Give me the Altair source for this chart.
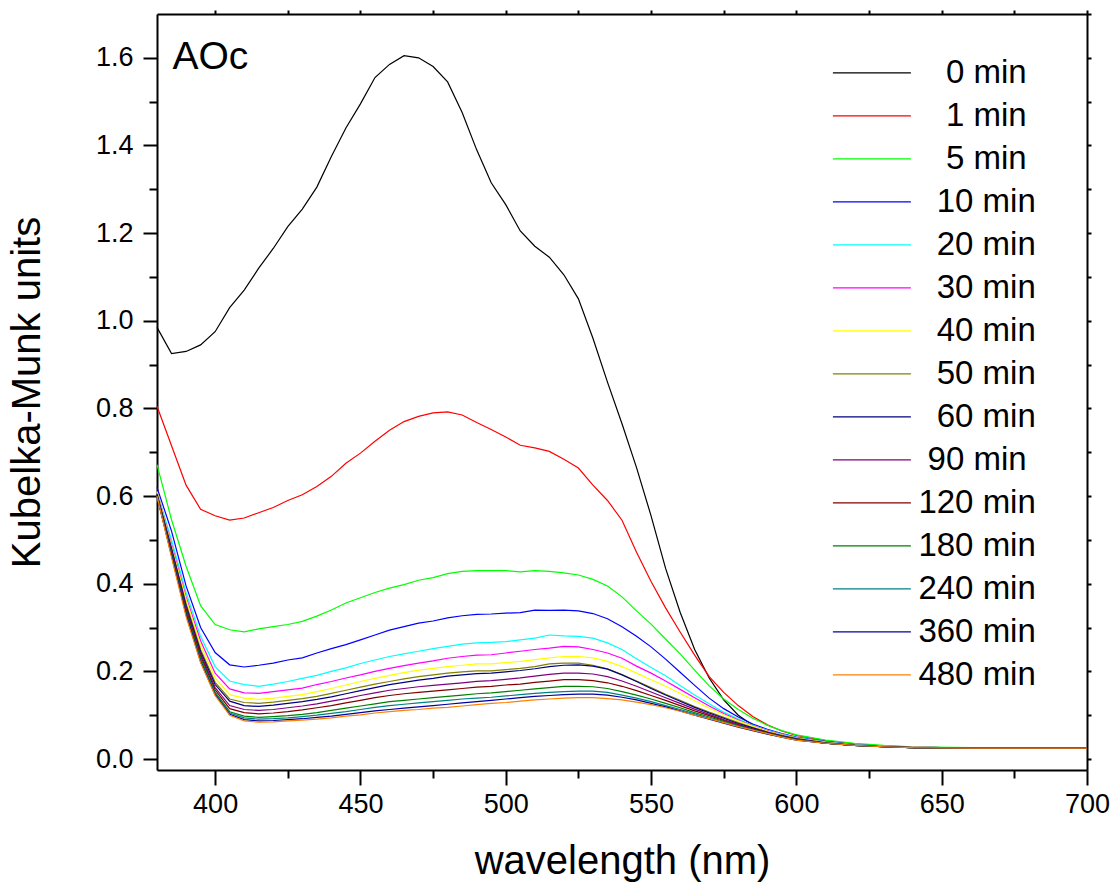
import altair as alt
import pandas as pd

wavelength = [380, 385, 390, 395, 400, 405, 410, 415, 420, 425,
              430, 435, 440, 445, 450, 455, 460, 465, 470, 475,
              480, 485, 490, 495, 500, 505, 510, 515, 520, 525,
              530, 535, 540, 545, 550, 555, 560, 565, 570, 575,
              580, 585, 590, 595, 600,
              610, 620, 630, 640, 660, 680, 700]

labels = ["0 min", "1 min", "5 min", "10 min", "20 min", "30 min", "40 min", "50 min",
          "60 min", "90 min", "120 min", "180 min", "240 min", "360 min", "480 min"]
colors = ["#000000", "#FF0000", "#00FF00", "#0000FF", "#00FFFF", "#FF00FF", "#FFFF00", "#808000",
          "#000080", "#800080", "#800000", "#008000", "#008080", "#0000A0", "#FF8000"]

km_0 = [0.985, 0.925, 0.930, 0.945, 0.975, 1.030, 1.070, 1.120, 1.165, 1.215,
        1.255, 1.305, 1.375, 1.440, 1.495, 1.555, 1.585, 1.605, 1.600, 1.580,
        1.545, 1.475, 1.390, 1.315, 1.265, 1.205, 1.170, 1.145, 1.105, 1.050,
        0.960, 0.860, 0.765, 0.665, 0.555, 0.435, 0.335, 0.250, 0.185, 0.135,
        0.100, 0.077, 0.063, 0.054, 0.047,
        0.036, 0.031, 0.028, 0.026, 0.025, 0.025, 0.025]
km_1 = [0.805, 0.715, 0.625, 0.570, 0.555, 0.545, 0.550, 0.562, 0.574, 0.590,
        0.603, 0.622, 0.645, 0.675, 0.698, 0.725, 0.750, 0.770, 0.782, 0.790,
        0.792, 0.785, 0.768, 0.752, 0.735, 0.716, 0.710, 0.702, 0.684, 0.664,
        0.625, 0.590, 0.545, 0.472, 0.405, 0.345, 0.290, 0.237, 0.188, 0.152,
        0.122, 0.097, 0.078, 0.064, 0.054,
        0.042, 0.034, 0.030, 0.027, 0.025, 0.025, 0.025]
km_5 = [0.672, 0.546, 0.440, 0.350, 0.307, 0.295, 0.290, 0.297, 0.302, 0.307,
        0.314, 0.326, 0.340, 0.356, 0.368, 0.380, 0.390, 0.398, 0.408, 0.414,
        0.423, 0.428, 0.430, 0.430, 0.430, 0.427, 0.430, 0.428, 0.425, 0.420,
        0.410, 0.395, 0.370, 0.338, 0.308, 0.274, 0.240, 0.203, 0.167, 0.137,
        0.113, 0.093, 0.077, 0.065, 0.055,
        0.043, 0.036, 0.031, 0.028, 0.026, 0.025, 0.025]
km_10 = [0.620, 0.520, 0.395, 0.300, 0.243, 0.215, 0.210, 0.214, 0.219, 0.226,
         0.231, 0.242, 0.252, 0.261, 0.272, 0.283, 0.294, 0.302, 0.310, 0.315,
         0.322, 0.327, 0.330, 0.331, 0.333, 0.334, 0.340, 0.339, 0.340, 0.338,
         0.332, 0.320, 0.302, 0.280, 0.256, 0.228, 0.198, 0.168, 0.139, 0.115,
         0.096, 0.080, 0.068, 0.058, 0.050,
         0.040, 0.033, 0.029, 0.027, 0.025, 0.025, 0.025]
km_20 = [0.610, 0.500, 0.380, 0.280, 0.211, 0.178, 0.170, 0.166, 0.171, 0.177,
         0.184, 0.191, 0.200, 0.208, 0.218, 0.226, 0.234, 0.240, 0.246, 0.252,
         0.257, 0.262, 0.265, 0.266, 0.268, 0.272, 0.276, 0.283, 0.281, 0.280,
         0.276, 0.265, 0.250, 0.229, 0.209, 0.190, 0.168, 0.146, 0.126, 0.107,
         0.091, 0.077, 0.066, 0.057, 0.049,
         0.039, 0.033, 0.029, 0.027, 0.025, 0.025, 0.025]
km_30 = [0.610, 0.490, 0.370, 0.270, 0.196, 0.160, 0.151, 0.150, 0.154, 0.158,
         0.162, 0.170, 0.177, 0.185, 0.192, 0.200, 0.207, 0.213, 0.219, 0.224,
         0.230, 0.234, 0.237, 0.238, 0.242, 0.246, 0.250, 0.253, 0.257, 0.256,
         0.250, 0.242, 0.230, 0.212, 0.196, 0.178, 0.159, 0.140, 0.121, 0.104,
         0.089, 0.076, 0.065, 0.056, 0.048,
         0.038, 0.032, 0.029, 0.027, 0.025, 0.025, 0.025]
km_40 = [0.610, 0.485, 0.365, 0.260, 0.185, 0.147, 0.139, 0.136, 0.139, 0.143,
         0.147, 0.154, 0.161, 0.169, 0.177, 0.184, 0.191, 0.197, 0.203, 0.207,
         0.211, 0.214, 0.217, 0.217, 0.220, 0.223, 0.227, 0.231, 0.234, 0.234,
         0.231, 0.223, 0.211, 0.196, 0.181, 0.166, 0.150, 0.133, 0.116, 0.101,
         0.087, 0.075, 0.064, 0.055, 0.048,
         0.038, 0.032, 0.029, 0.027, 0.025, 0.025, 0.025]
km_50 = [0.605, 0.480, 0.355, 0.250, 0.175, 0.137, 0.129, 0.127, 0.130, 0.134,
         0.138, 0.143, 0.150, 0.157, 0.164, 0.171, 0.177, 0.183, 0.188, 0.192,
         0.196, 0.199, 0.201, 0.201, 0.204, 0.207, 0.211, 0.217, 0.219, 0.219,
         0.214, 0.206, 0.193, 0.178, 0.163, 0.148, 0.134, 0.120, 0.107, 0.095,
         0.083, 0.072, 0.062, 0.054, 0.047,
         0.037, 0.032, 0.028, 0.026, 0.025, 0.025, 0.025]
km_60 = [0.605, 0.480, 0.350, 0.245, 0.170, 0.132, 0.122, 0.120, 0.123, 0.127,
         0.131, 0.136, 0.142, 0.149, 0.156, 0.163, 0.170, 0.175, 0.180, 0.184,
         0.189, 0.192, 0.195, 0.196, 0.199, 0.202, 0.206, 0.211, 0.214, 0.215,
         0.212, 0.205, 0.192, 0.177, 0.161, 0.146, 0.132, 0.118, 0.105, 0.093,
         0.081, 0.071, 0.061, 0.053, 0.046,
         0.037, 0.031, 0.028, 0.026, 0.025, 0.025, 0.025]
km_90 = [0.600, 0.475, 0.345, 0.240, 0.163, 0.122, 0.113, 0.111, 0.113, 0.117,
         0.121, 0.126, 0.132, 0.138, 0.145, 0.151, 0.157, 0.161, 0.165, 0.168,
         0.171, 0.174, 0.177, 0.179, 0.182, 0.185, 0.189, 0.193, 0.196, 0.196,
         0.194, 0.188, 0.178, 0.166, 0.153, 0.140, 0.127, 0.114, 0.102, 0.090,
         0.079, 0.069, 0.060, 0.052, 0.045,
         0.036, 0.031, 0.028, 0.026, 0.025, 0.025, 0.025]
km_120 = [0.600, 0.470, 0.340, 0.235, 0.158, 0.115, 0.106, 0.103, 0.105, 0.108,
          0.112, 0.117, 0.122, 0.128, 0.134, 0.140, 0.145, 0.149, 0.152, 0.155,
          0.158, 0.161, 0.164, 0.166, 0.169, 0.171, 0.175, 0.178, 0.181, 0.181,
          0.179, 0.174, 0.166, 0.156, 0.145, 0.134, 0.122, 0.110, 0.099, 0.088,
          0.077, 0.068, 0.059, 0.051, 0.045,
          0.036, 0.031, 0.028, 0.026, 0.025, 0.025, 0.025]
km_180 = [0.600, 0.470, 0.335, 0.230, 0.153, 0.108, 0.098, 0.095, 0.097, 0.099,
          0.102, 0.106, 0.111, 0.116, 0.121, 0.126, 0.131, 0.134, 0.137, 0.140,
          0.143, 0.146, 0.149, 0.151, 0.154, 0.157, 0.160, 0.163, 0.166, 0.166,
          0.165, 0.161, 0.154, 0.146, 0.137, 0.127, 0.117, 0.106, 0.096, 0.086,
          0.076, 0.067, 0.058, 0.051, 0.044,
          0.036, 0.031, 0.028, 0.026, 0.025, 0.025, 0.025]
km_240 = [0.600, 0.465, 0.330, 0.225, 0.150, 0.105, 0.094, 0.091, 0.092, 0.094,
          0.097, 0.100, 0.104, 0.108, 0.113, 0.118, 0.122, 0.125, 0.128, 0.131,
          0.134, 0.137, 0.139, 0.141, 0.144, 0.147, 0.150, 0.152, 0.154, 0.155,
          0.155, 0.152, 0.146, 0.139, 0.131, 0.122, 0.113, 0.103, 0.093, 0.084,
          0.075, 0.066, 0.058, 0.050, 0.044,
          0.036, 0.031, 0.028, 0.026, 0.025, 0.025, 0.025]
km_360 = [0.600, 0.465, 0.330, 0.222, 0.147, 0.102, 0.090, 0.087, 0.088, 0.090,
          0.092, 0.095, 0.098, 0.102, 0.106, 0.110, 0.113, 0.116, 0.119, 0.122,
          0.125, 0.128, 0.131, 0.134, 0.137, 0.140, 0.143, 0.145, 0.147, 0.148,
          0.148, 0.146, 0.141, 0.135, 0.127, 0.119, 0.110, 0.100, 0.091, 0.082,
          0.073, 0.065, 0.057, 0.050, 0.043,
          0.036, 0.031, 0.028, 0.026, 0.025, 0.025, 0.025]
km_480 = [0.600, 0.460, 0.325, 0.220, 0.145, 0.100, 0.087, 0.084, 0.085, 0.087,
          0.089, 0.091, 0.094, 0.098, 0.101, 0.105, 0.108, 0.111, 0.113, 0.116,
          0.118, 0.121, 0.124, 0.127, 0.129, 0.132, 0.135, 0.137, 0.139, 0.140,
          0.140, 0.138, 0.135, 0.130, 0.124, 0.117, 0.109, 0.100, 0.092, 0.083,
          0.074, 0.066, 0.058, 0.050, 0.043,
          0.036, 0.031, 0.028, 0.026, 0.025, 0.025, 0.025]

series = [km_0, km_1, km_5, km_10, km_20, km_30, km_40, km_50,
          km_60, km_90, km_120, km_180, km_240, km_360, km_480]

x_ticks = [400, 425, 450, 475, 500, 525, 550, 575, 600, 625, 650, 675, 700]
y_ticks = [0.0, 0.1, 0.2, 0.3, 0.4, 0.5, 0.6, 0.7, 0.8, 0.9, 1.0,
           1.1, 1.2, 1.3, 1.4, 1.5, 1.6]
y_ticks_right = y_ticks + [1.7]

panel_label = ["AOc"]
panel_label_x = [385.3]
panel_label_y = [1.574]

rows = []
for lab, vals in zip(labels, series):
    for w, v in zip(wavelength, vals):
        rows.append({"wavelength": w, "km": v, "time": lab})
df = pd.DataFrame(rows)

FONT = "Liberation Sans"
x_scale = alt.Scale(domain=[380, 700], nice=False, zero=False)
y_scale = alt.Scale(domain=[-0.025, 1.70], nice=False, zero=False)

common_axis = dict(domainColor="black", domainWidth=2, tickColor="black", tickWidth=2,
                   grid=False, labelFont=FONT, labelColor="black", titleFont=FONT,
                   titleColor="black", titleFontWeight="normal", labelFlush=False,
                   labelOverlap=False)

# zero-width space first so that the leading no-break spaces survive trimming
ZW = "\u200b"
NB = "\u00a0"
label_expr = ("length(datum.label) == 5 ? '" + ZW + NB * 3 + "' + datum.label : "
              "datum.label == '90 min' ? '" + ZW + NB + "' + datum.label : "
              "length(datum.label) == 6 ? '" + ZW + NB * 2 + "' + datum.label : datum.label")

lines = alt.Chart(df).mark_line(strokeWidth=1.2).encode(
    x=alt.X("wavelength:Q", scale=x_scale,
            axis=alt.Axis(orient="bottom", values=x_ticks, format="d",
                          tickSize=alt.ExprRef(expr="datum.value % 50 === 0 ? 15 : 8"),
                          labelExpr="datum.value % 50 === 0 ? datum.label : ''",
                          labelFontSize=27, labelPadding=6,
                          title="wavelength (nm)", titleFontSize=40, titlePadding=24,
                          **common_axis)),
    y=alt.Y("km:Q", scale=y_scale,
            axis=alt.Axis(orient="left", values=y_ticks,
                          tickSize=alt.ExprRef(expr="round(datum.value * 10) % 2 === 0 ? 14 : 8"),
                          labelExpr="round(datum.value * 10) % 2 === 0 ? format(datum.value, '.1f') : ''",
                          labelFontSize=27, labelPadding=10,
                          title="Kubelka-Munk units", titleFontSize=40, titlePadding=48,
                          **common_axis)),
    color=alt.Color("time:N", scale=alt.Scale(domain=labels, range=colors),
                    legend=alt.Legend(orient="none", legendX=689.4, legendY=33.4, title=None,
                                      symbolType="M-1.585,0L1.585,0", symbolSize=2420,
                                      symbolStrokeWidth=1.3, labelFontSize=33,
                                      labelFont=FONT, labelColor="black", rowPadding=0,
                                      labelOffset=21, padding=0, labelLimit=400,
                                      labelExpr=label_expr)),
)

frame = alt.Chart(df).mark_line(strokeOpacity=0).encode(
    x=alt.X("wavelength:Q", scale=x_scale,
            axis=alt.Axis(orient="top", values=x_ticks, labels=False, title=None,
                          tickSize=4, **common_axis)),
    y=alt.Y("km:Q", scale=y_scale,
            axis=alt.Axis(orient="right", values=y_ticks_right, labels=False, title=None,
                          tickSize=4, **common_axis)),
)

ann_df = pd.DataFrame({"x": panel_label_x, "y": panel_label_y, "t": panel_label})
ann = alt.Chart(ann_df).mark_text(font=FONT, fontSize=39, align="left",
                                  baseline="alphabetic", color="black").encode(
    x=alt.X("x:Q", scale=x_scale, axis=None),
    y=alt.Y("y:Q", scale=y_scale, axis=None),
    text="t:N",
)

chart = alt.layer(lines, frame, ann).resolve_axis(
    x="independent", y="independent"
).properties(
    width=930, height=756,
    padding={"left": 157, "top": 14, "right": 27, "bottom": 118},
    autosize=alt.AutoSizeParams(type="none"),
    background="white",
).configure_view(stroke=None)

chart.save("out.html", embed_options={"renderer": "svg", "actions": False})
